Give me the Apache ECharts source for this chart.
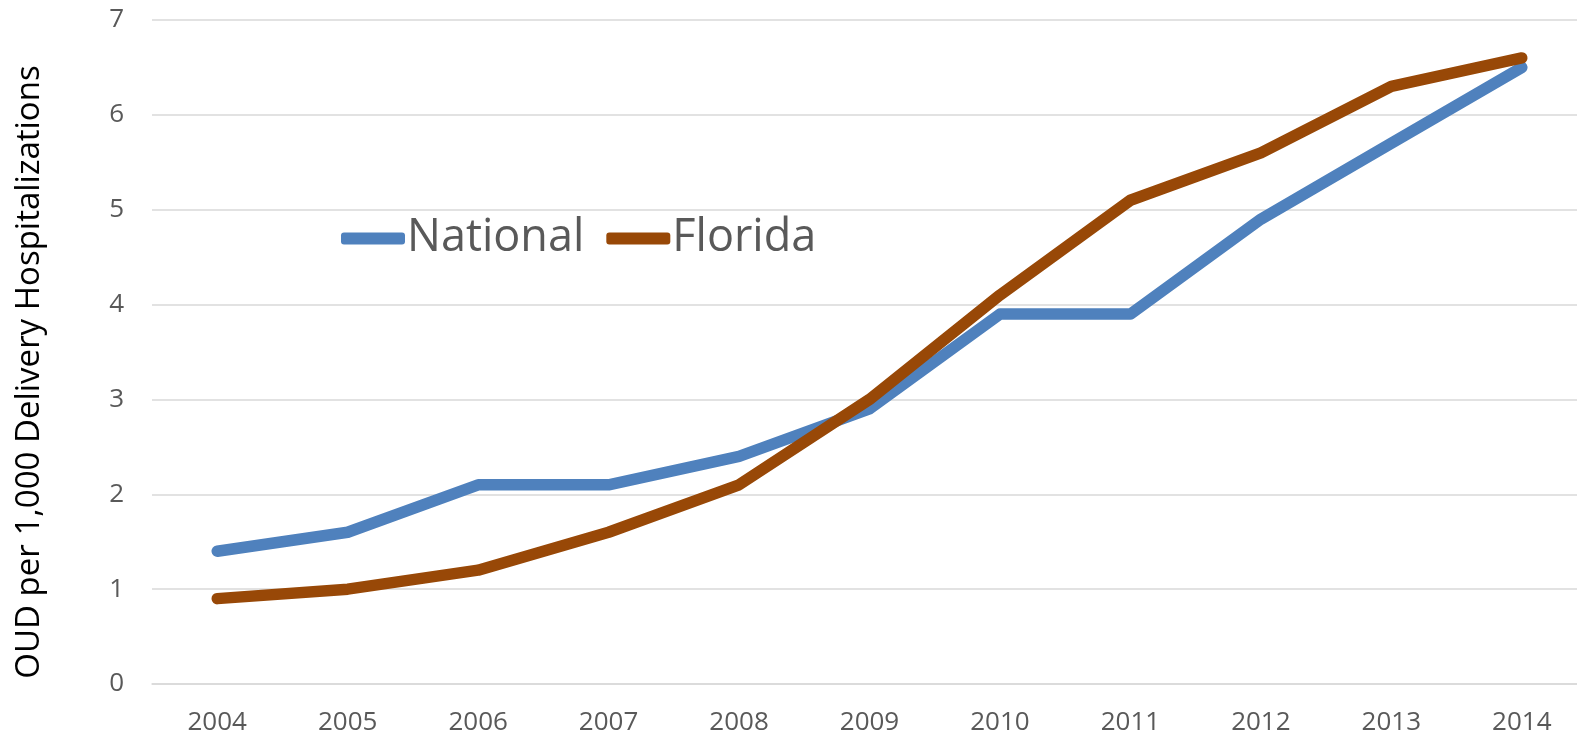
<!DOCTYPE html>
<html>
<head>
<meta charset="utf-8">
<script src="https://cdn.jsdelivr.net/npm/echarts@6/dist/echarts.min.js"></script>
<style>
html,body{margin:0;padding:0;background:#fff;overflow:hidden;}
#chart{width:1592px;height:737px;}
</style>
</head>
<body>
<div id="chart"></div>
<script>
const years = ['2004','2005','2006','2007','2008','2009','2010','2011','2012','2013','2014'];
const national = [1.4, 1.6, 2.1, 2.1, 2.4, 2.9, 3.9, 3.9, 4.9, 5.7, 6.5];
const florida = [0.9, 1.0, 1.2, 1.6, 2.1, 3.0, 4.1, 5.1, 5.6, 6.3, 6.6];
const yAxisTitle = 'OUD per 1,000 Delivery Hospitalizations';

const FONT = '"Open Sans", "Liberation Sans", sans-serif';
const chart = echarts.init(document.getElementById('chart'));
function lineSeries(name, data, color) {
  return {
    name: name, type: 'line', data: data,
    symbol: 'none', smooth: false,
    lineStyle: { width: 11.5, color: color, cap: 'round', join: 'round' },
    itemStyle: { color: color },
    z: name === 'Florida' ? 3 : 2
  };
}
chart.setOption({
  animation: false,
  backgroundColor: '#ffffff',
  grid: { left: 152, top: 20, width: 1435, height: 664 },
  legend: {
    left: 336, top: 211,
    itemWidth: 64, itemHeight: 12, itemGap: 22,
    icon: 'roundRect',
    textStyle: { fontSize: 45, color: '#595959', fontFamily: FONT, padding: [0,0,0,-3] },
    data: ['National', 'Florida']
  },
  xAxis: {
    type: 'category', data: years, boundaryGap: true,
    axisLine: { show: true, lineStyle: { color: '#D9D9D9', width: 1.5 } },
    axisTick: { show: false },
    axisLabel: { fontSize: 26, color: '#595959', fontFamily: FONT, margin: 26 }
  },
  yAxis: {
    type: 'value', min: 0, max: 7, interval: 1,
    name: yAxisTitle, nameLocation: 'middle', nameGap: 106, nameRotate: 90,
    nameTextStyle: { fontSize: 33, color: '#000000', fontFamily: FONT, padding: [0, 40, 0, 0] },
    axisLine: { show: false }, axisTick: { show: false },
    splitLine: { lineStyle: { color: '#D9D9D9', width: 1.5 } },
    axisLabel: { fontSize: 26, color: '#595959', fontFamily: FONT, margin: 28 }
  },
  series: [
    lineSeries('National', national, '#4F81BD'),
    lineSeries('Florida', florida, '#984807')
  ]
});
</script>
</body>
</html>
